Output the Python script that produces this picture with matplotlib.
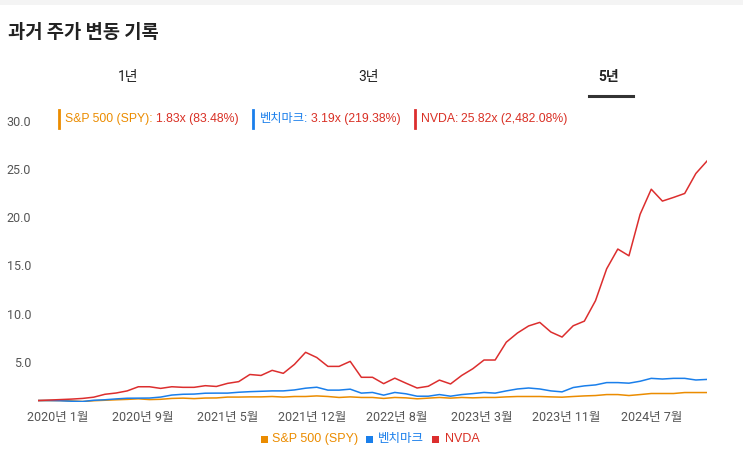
import matplotlib
matplotlib.use("Agg")
import matplotlib.pyplot as plt
from matplotlib.patches import Rectangle

W, H = 743, 454
plt.rcParams['font.family'] = ['Roboto', 'Noto Sans CJK KR', 'DejaVu Sans']

# ---- data ----
title = "과거 주가 변동 기록"
tabs = ["1년", "3년", "5년"]
series_names = ["S&P 500 (SPY)", "벤치마크", "NVDA"]
summary = ["1.83x (83.48%)", "3.19x (219.38%)", "25.82x (2,482.08%)"]
spy = [1.0, 1.0, 1.0, 0.96, 0.9, 0.98, 1.03, 1.08, 1.12, 1.18, 1.1, 1.13, 1.22, 1.25, 1.2,
       1.26, 1.27, 1.36, 1.36, 1.38, 1.38, 1.42, 1.36, 1.42, 1.42, 1.48, 1.42, 1.32, 1.38,
       1.32, 1.32, 1.22, 1.32, 1.28, 1.18, 1.25, 1.32, 1.25, 1.32, 1.28, 1.32, 1.32, 1.38,
       1.42, 1.42, 1.42, 1.38, 1.35, 1.42, 1.48, 1.52, 1.62, 1.62, 1.52, 1.62, 1.73, 1.73,
       1.73, 1.83, 1.83, 1.83]
bench = [1.0, 1.0, 0.98, 0.93, 0.9, 1.03, 1.08, 1.17, 1.24, 1.25, 1.26, 1.36, 1.57, 1.65,
         1.67, 1.76, 1.77, 1.77, 1.86, 1.92, 1.96, 2.0, 2.0, 2.1, 2.28, 2.38, 2.08, 2.08,
         2.18, 1.77, 1.84, 1.56, 1.84, 1.7, 1.45, 1.45, 1.62, 1.45, 1.62, 1.72, 1.84, 1.77,
         2.0, 2.2, 2.3, 2.2, 2.0, 1.9, 2.35, 2.52, 2.62, 2.86, 2.86, 2.8, 3.0, 3.3, 3.23,
         3.3, 3.3, 3.13, 3.19]
nvda = [1.0, 1.05, 1.1, 1.15, 1.22, 1.35, 1.65, 1.78, 2.0, 2.43, 2.43, 2.26, 2.43, 2.37,
        2.37, 2.54, 2.46, 2.78, 2.96, 3.7, 3.6, 4.13, 3.82, 4.75, 6.0, 5.46, 4.54, 4.54,
        5.06, 3.41, 3.41, 2.75, 3.32, 2.8, 2.3, 2.48, 3.12, 2.72, 3.6, 4.3, 5.2, 5.2, 7.05,
        8.0, 8.73, 9.1, 8.1, 7.58, 8.75, 9.23, 11.35, 14.65, 16.7, 16.0, 20.3, 22.9, 21.67,
        22.05, 22.46, 24.53, 25.82]
x_labels = ["2020년 1월", "2020년 9월", "2021년 5월", "2021년 12월",
            "2022년 8월", "2023년 3월", "2023년 11월", "2024년 7월"]
y_ticks = [5, 10, 15, 20, 25, 30]

colors = ['#EB8C00', '#1A7FEB', '#DC2E2E']
val_color = '#D93025'
hdr_font = ['Liberation Sans', 'Noto Sans CJK KR']

fig = plt.figure(figsize=(W / 100, H / 100), dpi=100)
fig.patch.set_facecolor('white')

def fx(x):
    return x / W

def fy(y):
    return 1 - y / H

# top grey band
fig.patches.append(Rectangle((0, fy(5)), 1, 5 / H, transform=fig.transFigure,
                             facecolor='#f4f4f4', edgecolor='none'))

# axes placement (pixels)
left, right = 38, 707
ylo, yhi = 0.8, 30.5
pix_per_unit = 9.65
y_of_zero = 410.2
top_px = y_of_zero - yhi * pix_per_unit
bot_px = y_of_zero - ylo * pix_per_unit
ax = fig.add_axes([fx(left), fy(bot_px), (right - left) / W, (bot_px - top_px) / H])

n = len(nvda)
xs = list(range(n))
for vals, c in zip([spy, bench, nvda], colors):
    ax.plot(xs, vals, color=c, lw=1.1, solid_joinstyle='round')

ax.set_xlim(0, n - 1)
ax.set_ylim(ylo, yhi)
for s in ax.spines.values():
    s.set_visible(False)
ax.set_yticks(y_ticks)
ax.set_yticklabels([f"{v:.1f}" for v in y_ticks])
tick_start, tick_step = 1.8, 7.6
ax.set_xticks([tick_start + k * tick_step for k in range(len(x_labels))])
ax.set_xticklabels(x_labels)
ax.tick_params(axis='both', length=0, labelcolor='#555555', labelsize=9)
ax.tick_params(axis='y', pad=5)
ax.tick_params(axis='x', pad=6)
ax.patch.set_alpha(0)

# title
fig.text(fx(8), fy(33), title, fontsize=13.5, fontweight='bold', color='#222222',
         va='center', ha='left', family=['Noto Sans CJK KR'])

# tabs
tab_x = [128, 369, 609]
for i, (t, xx) in enumerate(zip(tabs, tab_x)):
    fig.text(fx(xx), fy(77), t, fontsize=10, color='#222222', ha='center', va='center',
             fontweight='bold' if i == 2 else 'normal',
             family=['Roboto', 'Noto Sans CJK KR'])
fig.lines.append(plt.Line2D([fx(589), fx(633)], [fy(96), fy(96)], transform=fig.transFigure,
                            color='#333333', lw=2.2))

# header summary
bar_x = [59, 253, 415]
name_x = [65, 260, 421]
name_texts = []
for i in range(3):
    fig.lines.append(plt.Line2D([fx(bar_x[i]), fx(bar_x[i])], [fy(110), fy(128)],
                                transform=fig.transFigure, color=colors[i], lw=2))
    t = fig.text(fx(name_x[i]), fy(119), series_names[i] + ":", fontsize=8.8,
                 color=colors[i] if i < 2 else val_color, ha='left', va='center',
                 family=hdr_font)
    name_texts.append(t)
fig.canvas.draw()
r = fig.canvas.get_renderer()
for i, t in enumerate(name_texts):
    bb = t.get_window_extent(r)
    fig.text((bb.x1 + 3) / W, fy(119), summary[i], fontsize=8.8, color=val_color,
             ha='left', va='center', family=hdr_font)

# bottom legend
sq_x = [261, 366, 432]
lab_x = [272, 378, 445]
for i in range(3):
    fig.patches.append(Rectangle((fx(sq_x[i]), fy(443)), 7 / W, 7 / H, transform=fig.transFigure,
                                 facecolor=colors[i], edgecolor='none'))
    fig.text(fx(lab_x[i]), fy(439), series_names[i], fontsize=9,
             color=colors[i] if i < 2 else val_color, ha='left', va='center',
             family=hdr_font)

fig.savefig("out.png", dpi=100, facecolor='white')
